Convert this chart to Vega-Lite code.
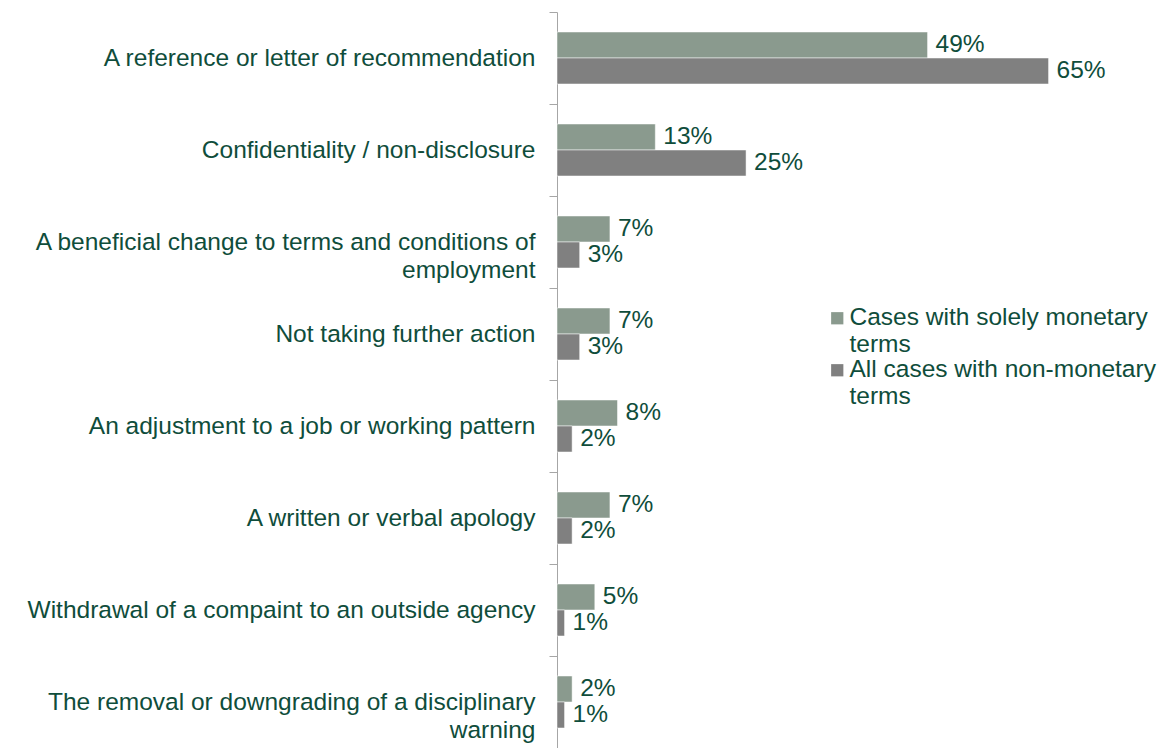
{
  "$schema": "https://vega.github.io/schema/vega-lite/v6.json",
  "width": 605,
  "height": 736,
  "autosize": "none",
  "padding": {"left": 557, "top": 12, "right": 0, "bottom": 0},
  "background": "white",
  "config": {
    "view": {"stroke": null},
    "font": "Liberation Sans",
    "text": {"font": "Liberation Sans"}
  },
  "data": {
    "values": [
      {"item": "A reference or letter of recommendation", "series": "Cases with solely monetary terms", "value": 49, "label": "49%"},
      {"item": "A reference or letter of recommendation", "series": "All cases with non-monetary terms", "value": 65, "label": "65%"},
      {"item": "Confidentiality / non-disclosure", "series": "Cases with solely monetary terms", "value": 13, "label": "13%"},
      {"item": "Confidentiality / non-disclosure", "series": "All cases with non-monetary terms", "value": 25, "label": "25%"},
      {"item": "A beneficial change to terms and conditions of employment", "series": "Cases with solely monetary terms", "value": 7, "label": "7%"},
      {"item": "A beneficial change to terms and conditions of employment", "series": "All cases with non-monetary terms", "value": 3, "label": "3%"},
      {"item": "Not taking further action", "series": "Cases with solely monetary terms", "value": 7, "label": "7%"},
      {"item": "Not taking further action", "series": "All cases with non-monetary terms", "value": 3, "label": "3%"},
      {"item": "An adjustment to a job or working pattern", "series": "Cases with solely monetary terms", "value": 8, "label": "8%"},
      {"item": "An adjustment to a job or working pattern", "series": "All cases with non-monetary terms", "value": 2, "label": "2%"},
      {"item": "A written or verbal apology", "series": "Cases with solely monetary terms", "value": 7, "label": "7%"},
      {"item": "A written or verbal apology", "series": "All cases with non-monetary terms", "value": 2, "label": "2%"},
      {"item": "Withdrawal of a compaint to an outside agency", "series": "Cases with solely monetary terms", "value": 5, "label": "5%"},
      {"item": "Withdrawal of a compaint to an outside agency", "series": "All cases with non-monetary terms", "value": 1, "label": "1%"},
      {"item": "The removal or downgrading of a disciplinary warning", "series": "Cases with solely monetary terms", "value": 2, "label": "2%"},
      {"item": "The removal or downgrading of a disciplinary warning", "series": "All cases with non-monetary terms", "value": 1, "label": "1%"}
    ]
  },
  "encoding": {
    "y": {
      "field": "item",
      "type": "nominal",
      "sort": null,
      "title": null,
      "scale": {"paddingInner": 0, "paddingOuter": 0},
      "axis": {
        "domainColor": "#a6a6a6",
        "tickColor": "#a6a6a6",
        "tickSize": 8,
        "tickBand": "extent",
        "labelPadding": 14,
        "labelFontSize": 24.5,
        "labelColor": "#0f4d3b",
        "labelLimit": 600,
        "labelLineHeight": 28,
        "labelExpr": "datum.value == 'A beneficial change to terms and conditions of employment' ? ['A beneficial change to terms and conditions of', 'employment'] : datum.value == 'The removal or downgrading of a disciplinary warning' ? ['The removal or downgrading of a disciplinary', 'warning'] : datum.value == 'Not taking further action' ? 'Not taking further action\u00a0' : datum.value",
        "encode": {
          "labels": {
            "update": {
              "align": [
                {"test": "indexof(datum.value, 'beneficial') >= 0 || indexof(datum.value, 'removal') >= 0", "value": "center"},
                {"value": "right"}
              ],
              "dx": [
                {"test": "indexof(datum.value, 'beneficial') >= 0", "value": -251},
                {"test": "indexof(datum.value, 'removal') >= 0", "value": -246},
                {"value": 0}
              ]
            }
          }
        }
      }
    },
    "yOffset": {
      "field": "series",
      "type": "nominal",
      "sort": ["Cases with solely monetary terms", "All cases with non-monetary terms"],
      "scale": {"paddingInner": 0, "paddingOuter": 0.769}
    },
    "x": {
      "field": "value",
      "type": "quantitative",
      "scale": {"domain": [0, 80]},
      "axis": null
    }
  },
  "layer": [
    {
      "mark": {"type": "bar", "stroke": "white", "strokeWidth": 0.5},
      "encoding": {
        "color": {
          "field": "series",
          "type": "nominal",
          "sort": ["Cases with solely monetary terms", "All cases with non-monetary terms"],
          "scale": {"domain": ["Cases with solely monetary terms", "All cases with non-monetary terms"], "range": ["#8a9a8e", "#808080"]},
          "legend": {
            "title": null,
            "orient": "none",
            "legendX": 268,
            "legendY": 294,
            "padding": 0,
            "symbolType": "square",
            "symbolSize": 150,
            "symbolStrokeWidth": 0,
            "labelFontSize": 24.5,
            "labelColor": "#0f4d3b",
            "labelLimit": 400,
            "labelLineHeight": 26,
            "labelOffset": 0,
            "rowPadding": 0,
            "labelExpr": "datum.value == 'Cases with solely monetary terms' ? ['Cases with solely monetary', 'terms'] : ['All cases with non-monetary', 'terms']"
          }
        }
      }
    },
    {
      "mark": {"type": "text", "align": "left", "baseline": "middle", "dx": 8, "fontSize": 24.5, "color": "#0f4d3b"},
      "encoding": {
        "text": {"field": "label", "type": "nominal"},
        "detail": {"field": "series"}
      }
    }
  ]
}
